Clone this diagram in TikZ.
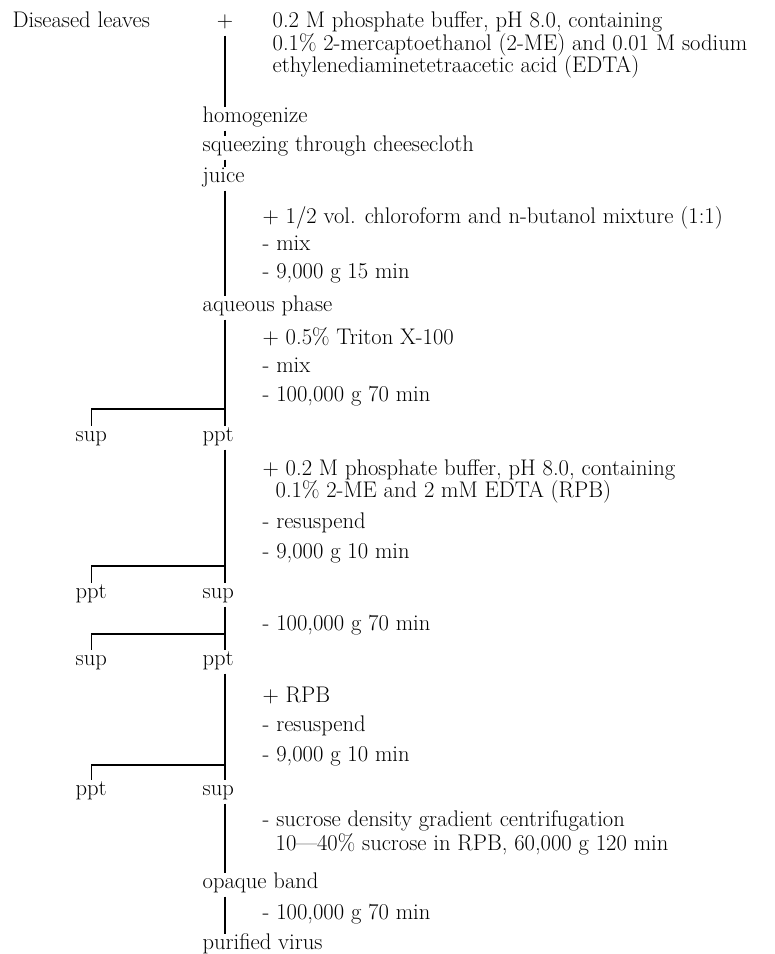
\documentclass[tikz,border=0pt]{standalone}
\usepackage{fontspec}
\usepackage{tikz}

\begin{document}
\begin{tikzpicture}[x=1pt, y=-1pt, line width=1.3pt,
	lbl/.style={anchor=base west, inner sep=2pt, text height=12pt, text depth=6pt,
		font=\fontsize{22.6}{26}\selectfont}]
	\useasboundingbox (0,0) rectangle (775,954);
	\coordinate (sp) at (225,0);

	\node[lbl] (leaves) at (10,27) {Diseased leaves};
	\node[lbl, anchor=base] (plus) at (225,27) {+};
	\node[lbl] (bufa) at (270,27) {0.2 M phosphate buffer, pH 8.0, containing};
	\node[lbl] (bufb) at (270,50) {0.1\% 2-mercaptoethanol (2-ME) and 0.01 M sodium};
	\node[lbl] (bufc) at (270,72) {ethylenediaminetetraacetic acid (EDTA)};

	\node[lbl] (homog) at (200,122) {homogenize};
	\node[lbl] (squeeze) at (200,151) {squeezing through cheesecloth};
	\node[lbl] (juice) at (200,182) {juice};
	\node[lbl] (chl) at (260,223) {+ 1/2 vol. chloroform and n-butanol mixture (1:1)};
	\node[lbl] (mixa) at (260,250) {- mix};
	\node[lbl] (ca) at (260,278) {- 9,000 g 15 min};
	\node[lbl] (aq) at (200,311) {aqueous phase};
	\node[lbl] (trit) at (260,344) {+ 0.5\% Triton X-100};
	\node[lbl] (mixb) at (260,372) {- mix};
	\node[lbl] (cb) at (260,401) {- 100,000 g 70 min};
	\node[lbl] (sup1) at (73,441) {sup};
	\node[lbl] (ppt1) at (200,441) {ppt};

	\node[lbl] (rpba) at (260,475) {+ 0.2 M phosphate buffer, pH 8.0, containing};
	\node[lbl] (rpbb) at (273,497) {0.1\% 2-ME and 2 mM EDTA (RPB)};
	\node[lbl] (resa) at (260,528) {- resuspend};
	\node[lbl] (cc) at (260,558) {- 9,000 g 10 min};
	\node[lbl] (ppt2) at (73,598) {ppt};
	\node[lbl] (sup2) at (200,598) {sup};
	\node[lbl] (cd) at (260,630) {- 100,000 g 70 min};
	\node[lbl] (sup3) at (73,665) {sup};
	\node[lbl] (ppt3) at (200,665) {ppt};

	\node[lbl] (rpb) at (260,702) {+ RPB};
	\node[lbl] (resb) at (260,731) {- resuspend};
	\node[lbl] (ce) at (260,761) {- 9,000 g 10 min};
	\node[lbl] (ppt4) at (73,795) {ppt};
	\node[lbl] (sup4) at (200,795) {sup};
	\node[lbl] (suc) at (260,826) {- sucrose density gradient centrifugation};
	\node[lbl] (grad) at (273,850) {10---40\% sucrose in RPB, 60,000 g 120 min};
	\node[lbl] (band) at (200,888) {opaque band};
	\node[lbl] (cf) at (260,919) {- 100,000 g 70 min};
	\node[lbl] (virus) at (200,949) {purified virus};

	% branch points
	\coordinate (j1) at (225,409);
	\coordinate (j2) at (225,566);
	\coordinate (j3) at (225,634);
	\coordinate (j4) at (225,765);

	\draw (plus.south -| sp) -- (homog.north -| sp);
	\draw (homog.south -| sp) -- (squeeze.north -| sp);
	\draw (squeeze.south -| sp) -- (juice.north -| sp);
	\draw (juice.south -| sp) -- (aq.north -| sp);
	\draw (aq.south -| sp) -- (ppt1.north -| sp);
	\draw (j1) -| (sup1.north);
	\draw (ppt1.south -| sp) -- (sup2.north -| sp);
	\draw (j2) -| (ppt2.north);
	\draw (sup2.south -| sp) -- (ppt3.north -| sp);
	\draw (j3) -| (sup3.north);
	\draw (ppt3.south -| sp) -- (sup4.north -| sp);
	\draw (j4) -| (ppt4.north);
	\draw (sup4.south -| sp) -- (band.north -| sp);
	\draw (band.south -| sp) -- (virus.north -| sp);
\end{tikzpicture}
\end{document}
